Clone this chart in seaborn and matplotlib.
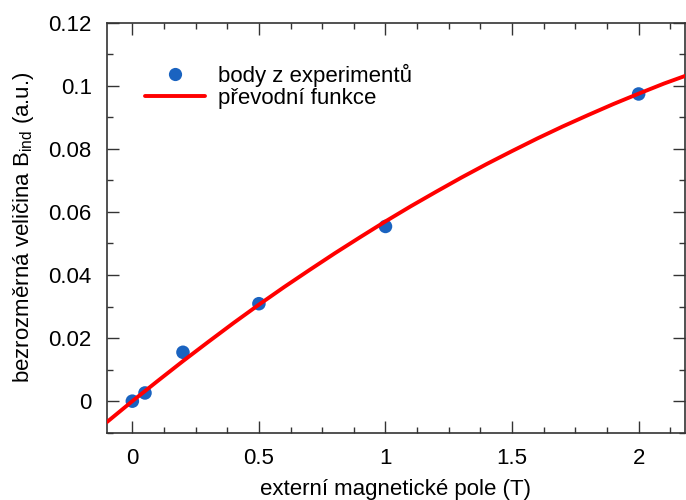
import matplotlib
matplotlib.use("Agg")
import matplotlib.pyplot as plt
import seaborn as sns
import pandas as pd
from matplotlib.ticker import MultipleLocator
from matplotlib.lines import Line2D

# experimental points
pole_T = [0.0, 0.05, 0.2, 0.5, 1.0, 2.0]
B_ind = [0.0, 0.0026, 0.0155, 0.0309, 0.0554, 0.0974]

# transfer function
fun_x = [-0.1, 0.0, 0.1, 0.2, 0.3, 0.4, 0.5, 0.6, 0.7, 0.8, 0.9, 1.0, 1.1,
         1.2, 1.3, 1.4, 1.5, 1.6, 1.7, 1.8, 1.9, 2.0, 2.1, 2.2]
fun_y = [-0.0066, 0.0, 0.0064, 0.0127, 0.0188, 0.0248, 0.0306, 0.0362,
         0.0416, 0.0469, 0.0520, 0.0570, 0.0618, 0.0664, 0.0709, 0.0752,
         0.0793, 0.0833, 0.0871, 0.0907, 0.0942, 0.0975, 0.1007, 0.1036]

x_ticks = [0, 0.5, 1, 1.5, 2]
x_tick_labels = ["0", "0.5", "1", "1.5", "2"]
y_ticks = [0, 0.02, 0.04, 0.06, 0.08, 0.1, 0.12]
y_tick_labels = ["0", "0.02", "0.04", "0.06", "0.08", "0.1", "0.12"]

sns.set_theme(style="ticks")
plt.rcParams['font.family'] = ['Liberation Sans', 'DejaVu Sans']
plt.rcParams['mathtext.fontset'] = 'custom'
plt.rcParams['mathtext.rm'] = 'Liberation Sans'
plt.rcParams['text.color'] = 'black'
plt.rcParams['axes.labelcolor'] = 'black'

fig = plt.figure(figsize=(6.86, 5.0), dpi=100)
ax = fig.add_axes([0.156, 0.1346, 0.8425, 0.8200])

df_pts = pd.DataFrame({"x": pole_T, "y": B_ind})
df_fun = pd.DataFrame({"x": fun_x, "y": fun_y})

pt_color = "#1a63c0"
line_color = "#ff0000"
FS = 16

sns.lineplot(data=df_fun, x="x", y="y", ax=ax, color=line_color,
             linewidth=2.8, zorder=3, sort=True)
sns.scatterplot(data=df_pts, x="x", y="y", ax=ax, color=pt_color, s=95,
                edgecolor="none", zorder=2)

ax.set_xlim(-0.1, 2.183)
ax.set_ylim(-0.01, 0.12)
ax.set_xticks(x_ticks)
ax.set_xticklabels(x_tick_labels)
ax.set_yticks(y_ticks)
ax.set_yticklabels(y_tick_labels)
ax.xaxis.set_minor_locator(MultipleLocator(0.125))
ax.yaxis.set_minor_locator(MultipleLocator(0.01))

ax.tick_params(which="both", direction="in", top=True, right=True,
               colors="#333333", labelcolor="black", labelsize=FS, width=1)
ax.tick_params(which="major", length=8.5, pad=11)
ax.tick_params(which="minor", length=4.2)
for s in ax.spines.values():
    s.set_visible(True)
    s.set_color("#333333")
    s.set_linewidth(1.2)

ax.set_xlabel("externí magnetické pole (T)", fontsize=FS, labelpad=7,
              color="black")
ax.set_ylabel(r"bezrozměrná veličina B$_{\mathregular{ind}}$ (a.u.)",
              fontsize=FS, labelpad=9, color="black")

handles = [
    Line2D([], [], marker="o", linestyle="none", color=pt_color,
           markersize=9.5, markeredgewidth=0),
    Line2D([], [], color=line_color, linewidth=2.8),
]
leg = ax.legend(handles, ["body z experimentů", "převodní funkce"],
                loc="upper left", bbox_to_anchor=(0.066, 0.90), frameon=False,
                fontsize=FS, handlelength=2.7, handletextpad=0.6,
                labelspacing=0.06, borderaxespad=0, borderpad=0)
for t in leg.get_texts():
    t.set_color("black")

fig.savefig("out.png", dpi=100)
